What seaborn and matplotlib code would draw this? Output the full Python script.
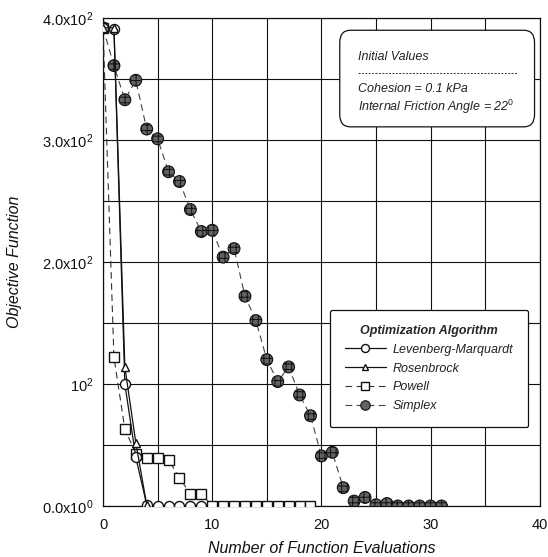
import matplotlib
matplotlib.use("Agg")
import matplotlib.pyplot as plt
from matplotlib.lines import Line2D
from matplotlib.patches import FancyBboxPatch
import seaborn as sns
import pandas as pd

# Objective function history per optimization algorithm
lm_evals = [0, 1, 2, 3, 4, 5, 6, 7, 8, 9]
lm_obj = [392, 391, 100, 40, 1, 0, 0, 0, 0, 0]

rosen_evals = [0, 1, 2, 3, 4]
rosen_obj = [392, 392, 114, 52, 1]

powell_evals = list(range(0, 20))
powell_obj = [392, 122, 63, 43, 39, 39, 38, 23, 10, 10,
              0, 0, 0, 0, 0, 0, 0, 0, 0, 0]

simplex_evals = list(range(0, 32))
simplex_obj = [392, 361, 333, 349, 309, 301, 274, 266, 243, 225,
               226, 204, 211, 172, 152, 120, 102, 114, 91, 74,
               41, 44, 15, 4, 7, 1, 2, 0, 0, 0, 0, 0]

series_names = ["Levenberg-Marquardt", "Rosenbrock", "Powell", "Simplex"]
y_tick_values = [0, 100, 200, 300, 400]
y_tick_labels = [r"0.0x10$^0$", r"10$^2$", r"2.0x10$^2$", r"3.0x10$^2$", r"4.0x10$^2$"]
x_tick_values = [0, 10, 20, 30, 40]

sns.set_theme(style="white")
plt.rcParams["font.family"] = ["Liberation Sans", "DejaVu Sans"]
plt.rcParams["mathtext.fontset"] = "custom"
plt.rcParams["mathtext.rm"] = "Liberation Sans"
plt.rcParams["mathtext.it"] = "Liberation Sans:italic"
plt.rcParams["hatch.linewidth"] = 0.7

fig = plt.figure(figsize=(5.48, 5.57), dpi=100)
ax = fig.add_axes([0.188, 0.0916, 0.797, 0.876])

dash = (6, 4)
styles = {
    "Simplex": dict(color="#444444", lw=0.8, dashes=dash, marker="o", ms=8.5,
                    mfc="#626262", mec="#111111", mew=0.8, z=3),
    "Powell": dict(color="#333333", lw=0.8, dashes=dash, marker="s", ms=6.8,
                   mfc="white", mec="#111111", mew=1.0, z=4),
    "Levenberg-Marquardt": dict(color="#111111", lw=0.9, dashes=None, marker="o", ms=7.2,
                                mfc="white", mec="#111111", mew=1.0, z=5),
    "Rosenbrock": dict(color="#111111", lw=0.9, dashes=None, marker="^", ms=5.5,
                       mfc="white", mec="#111111", mew=1.0, z=6),
}
data = {
    "Levenberg-Marquardt": (lm_evals, lm_obj),
    "Rosenbrock": (rosen_evals, rosen_obj),
    "Powell": (powell_evals, powell_obj),
    "Simplex": (simplex_evals, simplex_obj),
}

for name in ["Simplex", "Powell", "Levenberg-Marquardt", "Rosenbrock"]:
    xs, ys = data[name]
    st = styles[name]
    df = pd.DataFrame({"x": xs, "y": ys})
    kw = dict(color=st["color"], lw=st["lw"], zorder=st["z"])
    if st["dashes"] is not None:
        kw["dashes"] = st["dashes"]
    if name == "Simplex":
        # line first, then hatched circular markers on top
        sns.lineplot(data=df, x="x", y="y", ax=ax, legend=False, **kw)
        sns.scatterplot(data=df, x="x", y="y", ax=ax, legend=False, s=st["ms"] ** 2,
                        marker="o", color=st["mfc"], edgecolor=st["mec"],
                        linewidth=st["mew"], hatch="+++", zorder=st["z"] + 0.1)
    else:
        sns.lineplot(data=df, x="x", y="y", ax=ax, legend=False, marker=st["marker"],
                     ms=st["ms"], mfc=st["mfc"], mec=st["mec"], mew=st["mew"], **kw)

ax.set_xlim(0, 40)
ax.set_ylim(0, 400)
ax.set_xticks(x_tick_values)
ax.set_xticks(list(range(0, 41, 5)), minor=True)
ax.set_yticks(y_tick_values)
ax.set_yticklabels(y_tick_labels)
ax.set_yticks(list(range(0, 401, 50)), minor=True)
ax.grid(True, which="both", color="#111111", lw=0.8)
ax.tick_params(which="both", length=0, labelsize=10.5, colors="#111111")
ax.tick_params(axis="x", pad=9)
ax.tick_params(axis="y", pad=7)
for s in ax.spines.values():
    s.set_color("#111111")
    s.set_linewidth(0.9)

ax.set_xlabel("Number of Function Evaluations", fontsize=11.5, style="italic",
              color="#111111", labelpad=6)
ax.set_ylabel("Objective Function", fontsize=11.5, style="italic",
              color="#111111", labelpad=14)

# Initial values box
box = FancyBboxPatch((0.542, 0.777), 0.446, 0.198, boxstyle="round,pad=0,rounding_size=0.025",
                     transform=ax.transAxes, fc="white", ec="#111111", lw=0.9, zorder=10)
ax.add_patch(box)
txt_kw = dict(transform=ax.transAxes, fontsize=9, style="italic", va="center",
              zorder=11, color="#222222")
ax.text(0.583, 0.920, "Initial Values", **txt_kw)
ax.plot([0.583, 0.947], [0.888, 0.888], transform=ax.transAxes, color="#333333",
        lw=0.7, ls=(0, (2, 1.5)), zorder=11)
ax.text(0.583, 0.854, "Cohesion = 0.1 kPa", **txt_kw)
ax.text(0.583, 0.818, r"Internal Friction Angle = 22$^0$", **txt_kw)

# Legend
handles = []
for name in series_names:
    st = styles[name]
    h = Line2D([], [], color=st["color"], lw=st["lw"], marker=st["marker"],
               ms=st["ms"] * 0.8, mfc=st["mfc"], mec=st["mec"], mew=st["mew"])
    if st["dashes"] is not None:
        h.set_dashes(st["dashes"])
    handles.append(h)
leg = ax.legend(handles, series_names, title="Optimization Algorithm",
                loc="upper left", bbox_to_anchor=(0.519, 0.402), frameon=True,
                fancybox=True, fontsize=9, handlelength=3.3, borderpad=1.2,
                labelspacing=0.55, handletextpad=0.55, borderaxespad=0)
leg.get_title().set_fontweight("bold")
leg.get_title().set_fontstyle("italic")
leg.get_title().set_fontsize(9)
for t in leg.get_texts():
    t.set_fontstyle("italic")
    t.set_color("#222222")
leg.get_frame().set_edgecolor("#111111")
leg.get_frame().set_linewidth(0.9)
leg.get_frame().set_alpha(1)
leg.set_zorder(20)

fig.savefig("out.png", dpi=100)
